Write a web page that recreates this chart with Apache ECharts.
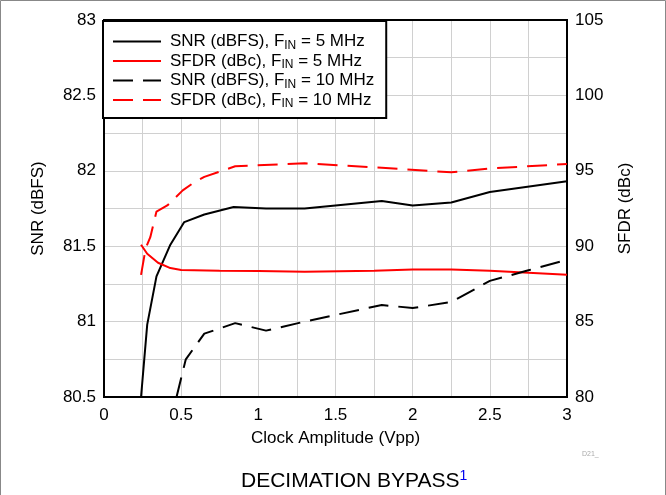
<!DOCTYPE html>
<html>
<head>
<meta charset="utf-8">
<script src="https://cdn.jsdelivr.net/npm/echarts@6/dist/echarts.min.js"></script>
<style>
html,body{margin:0;padding:0;background:#fff;}
#c{width:666px;height:495px;}
</style>
</head>
<body>
<div id="c"></div>
<script>
// Clock amplitude (Vpp) and measured values
var snr5X  = [0.24, 0.28, 0.34, 0.43, 0.52, 0.65, 0.84, 1.05, 1.3, 1.8, 2.0, 2.25, 2.5, 3.0];
var snr5Y  = [80.5, 80.98, 81.30, 81.51, 81.66, 81.71, 81.76, 81.75, 81.75, 81.80, 81.77, 81.79, 81.86, 81.93];

var sfdr5X = [0.24, 0.28, 0.35, 0.43, 0.5, 0.75, 1.0, 1.3, 1.75, 2.0, 2.25, 2.5, 3.0];
var sfdr5Y = [90.1, 89.5, 88.9, 88.55, 88.42, 88.38, 88.36, 88.3, 88.38, 88.45, 88.45, 88.38, 88.1];

var snr10X = [0.47, 0.53, 0.65, 0.85, 1.05, 1.3, 1.8, 2.0, 2.25, 2.5, 2.75, 3.0];
var snr10Y = [80.5, 80.75, 80.92, 80.99, 80.94, 81.0, 81.11, 81.09, 81.13, 81.27, 81.34, 81.41];

var sfdr10X = [0.24, 0.27, 0.30, 0.34, 0.41, 0.51, 0.58, 0.65, 0.85, 1.3, 1.8, 2.25, 2.5, 3.0];
var sfdr10Y = [88.1, 89.85, 90.6, 92.3, 92.7, 93.7, 94.2, 94.6, 95.3, 95.5, 95.2, 94.9, 95.15, 95.45];

var legendNames = ['SNR5', 'SFDR5', 'SNR10', 'SFDR10'];
var legendLabels = {
  SNR5:   ['SNR (dBFS), F', 'IN', ' = 5 MHz'],
  SFDR5:  ['SFDR (dBc), F', 'IN', ' = 5 MHz'],
  SNR10:  ['SNR (dBFS), F', 'IN', ' = 10 MHz'],
  SFDR10: ['SFDR (dBc), F', 'IN', ' = 10 MHz']
};

function pairs(xs, ys){ return xs.map(function(x,i){ return [x, ys[i]]; }); }

var FONT = 'Liberation Sans, Arial, sans-serif';
var DASH = [20, 10];
var chart = echarts.init(document.getElementById('c'));

function lineSeries(name, xs, ys, color, dashed, yIdx){
  return {
    name: name, type: 'line', yAxisIndex: yIdx,
    data: pairs(xs, ys),
    symbol: 'none', showSymbol: false, smooth: false, clip: true,
    lineStyle: {color: color, width: 2, type: dashed ? DASH : 'solid'},
    itemStyle: {color: color},
    z: 5
  };
}

function legendItem(name, color, dashed){
  return {
    name: name,
    itemStyle: {opacity: 0, borderWidth: 0},
    lineStyle: {color: color, width: 2, type: dashed ? DASH : 'solid', opacity: 1}
  };
}

chart.setOption({
  animation: false,
  backgroundColor: '#fff',
  textStyle: {fontFamily: FONT},
  grid: {left: 104, right: 99, top: 20, bottom: 98, show: true, borderColor: '#000', borderWidth: 2, backgroundColor: 'transparent', z: 3},
  legend: {
    data: [
      legendItem(legendNames[0], '#000', false),
      legendItem(legendNames[1], '#ff0000', false),
      legendItem(legendNames[2], '#000', true),
      legendItem(legendNames[3], '#ff0000', true)
    ],
    orient: 'vertical',
    left: 103, top: 21,
    padding: [12, 12, 8, 9],
    itemWidth: 48, itemHeight: 14, itemGap: 1,
    backgroundColor: '#fff', borderColor: '#000', borderWidth: 2,
    borderRadius: 0,
    formatter: function(n){
      var p = legendLabels[n];
      return '{t|' + p[0] + '}{s|' + p[1] + '}{t|' + p[2] + '}';
    },
    textStyle: {
      fontFamily: FONT, color: '#000', padding: [0,0,0,4],
      rich: {
        t: {fontSize: 17, lineHeight: 20, fontFamily: FONT, color: '#000'},
        s: {fontSize: 12, lineHeight: 10, verticalAlign: 'bottom', fontFamily: FONT, color: '#000'}
      }
    },
    z: 10
  },
  xAxis: {
    type: 'value', min: 0, max: 3, interval: 0.5,
    name: 'Clock Amplitude (Vpp)', nameLocation: 'middle', nameGap: 33,
    nameTextStyle: {fontSize: 17, color: '#000', fontFamily: FONT},
    axisLine: {show: true, lineStyle: {color: '#000', width: 2}},
    axisTick: {show: false},
    axisLabel: {fontSize: 17, color: '#000', margin: 10, fontFamily: FONT},
    splitLine: {show: true, lineStyle: {color: '#d0d0d0', width: 1}},
    minorTick: {show: false, splitNumber: 2},
    minorSplitLine: {show: true, lineStyle: {color: '#d0d0d0', width: 1}}
  },
  yAxis: [{
    type: 'value', min: 80.5, max: 83, interval: 0.5, position: 'left',
    name: 'SNR (dBFS)', nameLocation: 'middle', nameGap: 57, nameRotate: 90,
    nameTextStyle: {fontSize: 17, color: '#000', fontFamily: FONT},
    axisLine: {show: true, lineStyle: {color: '#000', width: 2}},
    axisTick: {show: false},
    axisLabel: {fontSize: 17, color: '#000', margin: 8, fontFamily: FONT,
      formatter: function(v){ return String(Math.round(v*10)/10); }},
    splitLine: {show: true, lineStyle: {color: '#d0d0d0', width: 1}},
    minorTick: {show: false, splitNumber: 2},
    minorSplitLine: {show: true, lineStyle: {color: '#d0d0d0', width: 1}}
  }, {
    type: 'value', min: 80, max: 105, interval: 5, position: 'right',
    name: 'SFDR (dBc)', nameLocation: 'middle', nameGap: 50, nameRotate: 90,
    nameTextStyle: {fontSize: 17, color: '#000', fontFamily: FONT},
    axisLine: {show: true, lineStyle: {color: '#000', width: 2}},
    axisTick: {show: false},
    axisLabel: {fontSize: 17, color: '#000', margin: 8, fontFamily: FONT},
    splitLine: {show: false}
  }],
  series: [
    lineSeries('SNR5', snr5X, snr5Y, '#000000', false, 0),
    lineSeries('SFDR5', sfdr5X, sfdr5Y, '#ff0000', false, 1),
    lineSeries('SNR10', snr10X, snr10Y, '#000000', true, 0),
    lineSeries('SFDR10', sfdr10X, sfdr10Y, '#ff0000', true, 1)
  ],
  graphic: [
    {type: 'rect', shape: {x: 0.5, y: 0.5, width: 665, height: 510}, style: {fill: 'none', stroke: '#888', lineWidth: 1}, z: 0, silent: true},
    {type: 'text', left: 582, top: 451, style: {text: 'D21_', fontSize: 7, fill: '#aaa', fontFamily: FONT}},
    {type: 'text', left: 241, top: 469, style: {
      text: '{a|DECIMATION BYPASS}{b|1}', fontFamily: FONT,
      rich: {
        a: {fontSize: 21, lineHeight: 25, fill: '#000', fontFamily: FONT},
        b: {fontSize: 14, lineHeight: 14, verticalAlign: 'top', fill: '#0000ee', fontFamily: FONT}
      }
    }}
  ]
});
</script>
</body>
</html>
